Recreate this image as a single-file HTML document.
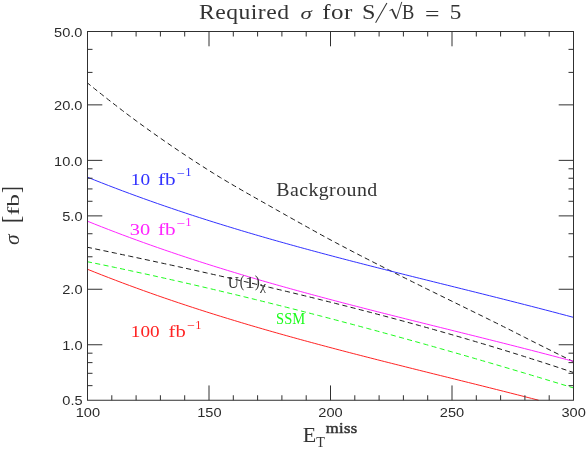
<!DOCTYPE html>
<html><head><meta charset="utf-8"><title>Required sigma</title>
<style>
html,body{margin:0;padding:0;background:#fff;}
body{width:588px;height:450px;overflow:hidden;position:relative;font-family:"Liberation Sans",sans-serif;}
</style></head><body>
<svg width="588" height="450" viewBox="0 0 588 450" style="position:absolute;left:0;top:0;will-change:transform">
<rect width="588" height="450" fill="#fff"/>
<g fill="none" stroke-width="1.0" stroke-linecap="butt" stroke-linejoin="round">
<path d="M87.50 82.99 L91.00 85.84 L94.49 88.66 L97.99 91.46 L101.49 94.25 L104.98 97.01 L108.48 99.76 L111.97 102.49 L115.47 105.20 L118.97 107.90 L122.46 110.57 L125.96 113.23 L129.46 115.86 L132.95 118.46 L136.45 121.04 L139.95 123.61 L143.44 126.15 L146.94 128.67 L150.44 131.17 L153.93 133.65 L157.43 136.11 L160.92 138.56 L164.42 140.99 L167.92 143.40 L171.41 145.80 L174.91 148.19 L178.41 150.55 L181.90 152.90 L185.40 155.23 L188.90 157.54 L192.39 159.83 L195.89 162.11 L199.38 164.37 L202.88 166.62 L206.38 168.85 L209.87 171.06 L213.37 173.25 L216.87 175.43 L220.36 177.56 L223.86 179.67 L227.36 181.74 L230.85 183.79 L234.35 185.83 L237.85 187.86 L241.34 189.89 L244.84 191.91 L248.33 193.90 L251.83 195.89 L255.33 197.86 L258.82 199.84 L262.32 201.80 L265.82 203.78 L269.31 205.75 L272.81 207.74 L276.31 209.72 L279.80 211.70 L283.30 213.68 L286.79 215.66 L290.29 217.63 L293.79 219.59 L297.28 221.55 L300.78 223.49 L304.28 225.44 L307.77 227.39 L311.27 229.33 L314.77 231.28 L318.26 233.21 L321.76 235.13 L325.26 237.04 L328.75 238.93 L332.25 240.80 L335.74 242.66 L339.24 244.52 L342.74 246.37 L346.23 248.20 L349.73 250.04 L353.23 251.86 L356.72 253.67 L360.22 255.47 L363.72 257.27 L367.21 259.06 L370.71 260.84 L374.21 262.61 L377.70 264.38 L381.20 266.15 L384.69 267.91 L388.19 269.67 L391.69 271.42 L395.18 273.17 L398.68 274.92 L402.18 276.67 L405.67 278.42 L409.17 280.16 L412.67 281.90 L416.16 283.63 L419.66 285.36 L423.15 287.09 L426.65 288.82 L430.15 290.54 L433.64 292.26 L437.14 293.98 L440.64 295.69 L444.13 297.41 L447.63 299.12 L451.13 300.84 L454.62 302.56 L458.12 304.27 L461.62 305.99 L465.11 307.71 L468.61 309.42 L472.10 311.14 L475.60 312.85 L479.10 314.55 L482.59 316.27 L486.09 318.00 L489.59 319.73 L493.08 321.47 L496.58 323.20 L500.08 324.94 L503.57 326.67 L507.07 328.41 L510.56 330.16 L514.06 331.93 L517.56 333.72 L521.05 335.51 L524.55 337.29 L528.05 339.06 L531.54 340.83 L535.04 342.59 L538.54 344.34 L542.03 346.08 L545.53 347.83 L549.03 349.57 L552.52 351.31 L556.02 353.05 L559.51 354.79 L563.01 356.52 L566.51 358.26 L570.00 359.98 L573.50 361.70" stroke="#1a1a1a" stroke-dasharray="5.1 3.35" stroke-dashoffset="1.1"/>
<path d="M87.50 177.22 L91.00 178.62 L94.49 180.02 L97.99 181.41 L101.49 182.78 L104.98 184.15 L108.48 185.51 L111.97 186.85 L115.47 188.19 L118.97 189.52 L122.46 190.84 L125.96 192.14 L129.46 193.44 L132.95 194.73 L136.45 196.01 L139.95 197.28 L143.44 198.54 L146.94 199.79 L150.44 201.04 L153.93 202.27 L157.43 203.50 L160.92 204.71 L164.42 205.92 L167.92 207.12 L171.41 208.31 L174.91 209.50 L178.41 210.68 L181.90 211.84 L185.40 213.00 L188.90 214.16 L192.39 215.30 L195.89 216.44 L199.38 217.57 L202.88 218.69 L206.38 219.81 L209.87 220.91 L213.37 222.02 L216.87 223.11 L220.36 224.20 L223.86 225.28 L227.36 226.35 L230.85 227.42 L234.35 228.48 L237.85 229.54 L241.34 230.59 L244.84 231.63 L248.33 232.67 L251.83 233.70 L255.33 234.72 L258.82 235.74 L262.32 236.76 L265.82 237.77 L269.31 238.77 L272.81 239.77 L276.31 240.76 L279.80 241.75 L283.30 242.73 L286.79 243.71 L290.29 244.68 L293.79 245.65 L297.28 246.62 L300.78 247.58 L304.28 248.53 L307.77 249.48 L311.27 250.43 L314.77 251.37 L318.26 252.31 L321.76 253.25 L325.26 254.18 L328.75 255.11 L332.25 256.04 L335.74 256.96 L339.24 257.88 L342.74 258.79 L346.23 259.70 L349.73 260.61 L353.23 261.52 L356.72 262.42 L360.22 263.32 L363.72 264.22 L367.21 265.12 L370.71 266.01 L374.21 266.90 L377.70 267.79 L381.20 268.68 L384.69 269.56 L388.19 270.44 L391.69 271.33 L395.18 272.21 L398.68 273.09 L402.18 273.96 L405.67 274.84 L409.17 275.71 L412.67 276.59 L416.16 277.46 L419.66 278.33 L423.15 279.20 L426.65 280.07 L430.15 280.94 L433.64 281.81 L437.14 282.68 L440.64 283.55 L444.13 284.41 L447.63 285.28 L451.13 286.15 L454.62 287.02 L458.12 287.89 L461.62 288.76 L465.11 289.63 L468.61 290.50 L472.10 291.37 L475.60 292.24 L479.10 293.11 L482.59 293.98 L486.09 294.86 L489.59 295.73 L493.08 296.61 L496.58 297.49 L500.08 298.37 L503.57 299.25 L507.07 300.13 L510.56 301.02 L514.06 301.91 L517.56 302.79 L521.05 303.69 L524.55 304.58 L528.05 305.47 L531.54 306.37 L535.04 307.27 L538.54 308.18 L542.03 309.08 L545.53 309.99 L549.03 310.90 L552.52 311.82 L556.02 312.73 L559.51 313.66 L563.01 314.58 L566.51 315.51 L570.00 316.44 L573.50 317.37" stroke="#3232ff"/>
<path d="M87.50 221.22 L91.00 222.62 L94.49 224.02 L97.99 225.41 L101.49 226.78 L104.98 228.15 L108.48 229.51 L111.97 230.85 L115.47 232.19 L118.97 233.52 L122.46 234.84 L125.96 236.14 L129.46 237.44 L132.95 238.73 L136.45 240.01 L139.95 241.28 L143.44 242.54 L146.94 243.79 L150.44 245.04 L153.93 246.27 L157.43 247.50 L160.92 248.71 L164.42 249.92 L167.92 251.12 L171.41 252.31 L174.91 253.50 L178.41 254.68 L181.90 255.84 L185.40 257.00 L188.90 258.16 L192.39 259.30 L195.89 260.44 L199.38 261.57 L202.88 262.69 L206.38 263.81 L209.87 264.91 L213.37 266.02 L216.87 267.11 L220.36 268.20 L223.86 269.28 L227.36 270.35 L230.85 271.42 L234.35 272.48 L237.85 273.54 L241.34 274.59 L244.84 275.63 L248.33 276.67 L251.83 277.70 L255.33 278.72 L258.82 279.74 L262.32 280.76 L265.82 281.77 L269.31 282.77 L272.81 283.77 L276.31 284.76 L279.80 285.75 L283.30 286.73 L286.79 287.71 L290.29 288.68 L293.79 289.65 L297.28 290.62 L300.78 291.58 L304.28 292.53 L307.77 293.48 L311.27 294.43 L314.77 295.37 L318.26 296.31 L321.76 297.25 L325.26 298.18 L328.75 299.11 L332.25 300.04 L335.74 300.96 L339.24 301.88 L342.74 302.79 L346.23 303.70 L349.73 304.61 L353.23 305.52 L356.72 306.42 L360.22 307.32 L363.72 308.22 L367.21 309.12 L370.71 310.01 L374.21 310.90 L377.70 311.79 L381.20 312.68 L384.69 313.56 L388.19 314.44 L391.69 315.33 L395.18 316.21 L398.68 317.09 L402.18 317.96 L405.67 318.84 L409.17 319.71 L412.67 320.59 L416.16 321.46 L419.66 322.33 L423.15 323.20 L426.65 324.07 L430.15 324.94 L433.64 325.81 L437.14 326.68 L440.64 327.55 L444.13 328.41 L447.63 329.28 L451.13 330.15 L454.62 331.02 L458.12 331.89 L461.62 332.76 L465.11 333.63 L468.61 334.50 L472.10 335.37 L475.60 336.24 L479.10 337.11 L482.59 337.98 L486.09 338.86 L489.59 339.73 L493.08 340.61 L496.58 341.49 L500.08 342.37 L503.57 343.25 L507.07 344.13 L510.56 345.02 L514.06 345.91 L517.56 346.79 L521.05 347.69 L524.55 348.58 L528.05 349.47 L531.54 350.37 L535.04 351.27 L538.54 352.18 L542.03 353.08 L545.53 353.99 L549.03 354.90 L552.52 355.82 L556.02 356.73 L559.51 357.66 L563.01 358.58 L566.51 359.51 L570.00 360.44 L573.50 361.37" stroke="#ff26ff"/>
<path d="M87.50 247.29 L91.00 248.02 L94.49 248.75 L97.99 249.49 L101.49 250.22 L104.98 250.95 L108.48 251.69 L111.97 252.43 L115.47 253.17 L118.97 253.91 L122.46 254.65 L125.96 255.39 L129.46 256.13 L132.95 256.88 L136.45 257.62 L139.95 258.37 L143.44 259.12 L146.94 259.87 L150.44 260.62 L153.93 261.38 L157.43 262.13 L160.92 262.89 L164.42 263.65 L167.92 264.41 L171.41 265.17 L174.91 265.93 L178.41 266.70 L181.90 267.47 L185.40 268.23 L188.90 269.00 L192.39 269.78 L195.89 270.55 L199.38 271.33 L202.88 272.11 L206.38 272.89 L209.87 273.67 L213.37 274.46 L216.87 275.24 L220.36 276.03 L223.86 276.82 L227.36 277.62 L230.85 278.41 L234.35 279.21 L237.85 280.01 L241.34 280.81 L244.84 281.62 L248.33 282.43 L251.83 283.24 L255.33 284.05 L258.82 284.86 L262.32 285.68 L265.82 286.50 L269.31 287.32 L272.81 288.15 L276.31 288.98 L279.80 289.81 L283.30 290.64 L286.79 291.48 L290.29 292.32 L293.79 293.16 L297.28 294.00 L300.78 294.85 L304.28 295.70 L307.77 296.55 L311.27 297.41 L314.77 298.27 L318.26 299.13 L321.76 300.00 L325.26 300.87 L328.75 301.74 L332.25 302.61 L335.74 303.49 L339.24 304.37 L342.74 305.26 L346.23 306.15 L349.73 307.04 L353.23 307.93 L356.72 308.83 L360.22 309.73 L363.72 310.64 L367.21 311.55 L370.71 312.46 L374.21 313.38 L377.70 314.30 L381.20 315.22 L384.69 316.14 L388.19 317.08 L391.69 318.01 L395.18 318.95 L398.68 319.89 L402.18 320.83 L405.67 321.78 L409.17 322.74 L412.67 323.69 L416.16 324.66 L419.66 325.62 L423.15 326.59 L426.65 327.56 L430.15 328.54 L433.64 329.52 L437.14 330.51 L440.64 331.50 L444.13 332.49 L447.63 333.49 L451.13 334.49 L454.62 335.50 L458.12 336.51 L461.62 337.52 L465.11 338.54 L468.61 339.57 L472.10 340.60 L475.60 341.63 L479.10 342.67 L482.59 343.71 L486.09 344.76 L489.59 345.81 L493.08 346.87 L496.58 347.93 L500.08 348.99 L503.57 350.06 L507.07 351.14 L510.56 352.22 L514.06 353.30 L517.56 354.39 L521.05 355.49 L524.55 356.59 L528.05 357.69 L531.54 358.80 L535.04 359.92 L538.54 361.04 L542.03 362.16 L545.53 363.29 L549.03 364.43 L552.52 365.57 L556.02 366.71 L559.51 367.86 L563.01 369.02 L566.51 370.18 L570.00 371.35 L573.50 372.52" stroke="#1a1a1a" stroke-dasharray="5.1 3.35" stroke-dashoffset="0.6"/>
<path d="M87.50 261.74 L91.00 262.46 L94.49 263.17 L97.99 263.89 L101.49 264.62 L104.98 265.34 L108.48 266.07 L111.97 266.81 L115.47 267.54 L118.97 268.28 L122.46 269.03 L125.96 269.77 L129.46 270.52 L132.95 271.27 L136.45 272.03 L139.95 272.79 L143.44 273.55 L146.94 274.31 L150.44 275.08 L153.93 275.85 L157.43 276.63 L160.92 277.41 L164.42 278.19 L167.92 278.97 L171.41 279.76 L174.91 280.55 L178.41 281.34 L181.90 282.13 L185.40 282.93 L188.90 283.73 L192.39 284.54 L195.89 285.35 L199.38 286.16 L202.88 286.97 L206.38 287.79 L209.87 288.61 L213.37 289.43 L216.87 290.25 L220.36 291.08 L223.86 291.91 L227.36 292.75 L230.85 293.58 L234.35 294.42 L237.85 295.27 L241.34 296.11 L244.84 296.96 L248.33 297.81 L251.83 298.67 L255.33 299.52 L258.82 300.38 L262.32 301.25 L265.82 302.11 L269.31 302.98 L272.81 303.85 L276.31 304.72 L279.80 305.60 L283.30 306.48 L286.79 307.36 L290.29 308.24 L293.79 309.13 L297.28 310.02 L300.78 310.91 L304.28 311.81 L307.77 312.70 L311.27 313.61 L314.77 314.51 L318.26 315.41 L321.76 316.32 L325.26 317.23 L328.75 318.15 L332.25 319.06 L335.74 319.98 L339.24 320.90 L342.74 321.83 L346.23 322.75 L349.73 323.68 L353.23 324.61 L356.72 325.55 L360.22 326.48 L363.72 327.42 L367.21 328.36 L370.71 329.31 L374.21 330.25 L377.70 331.20 L381.20 332.15 L384.69 333.10 L388.19 334.06 L391.69 335.02 L395.18 335.98 L398.68 336.94 L402.18 337.91 L405.67 338.88 L409.17 339.85 L412.67 340.82 L416.16 341.79 L419.66 342.77 L423.15 343.75 L426.65 344.73 L430.15 345.72 L433.64 346.70 L437.14 347.69 L440.64 348.68 L444.13 349.68 L447.63 350.67 L451.13 351.67 L454.62 352.67 L458.12 353.67 L461.62 354.68 L465.11 355.68 L468.61 356.69 L472.10 357.70 L475.60 358.72 L479.10 359.73 L482.59 360.75 L486.09 361.77 L489.59 362.79 L493.08 363.81 L496.58 364.84 L500.08 365.87 L503.57 366.90 L507.07 367.93 L510.56 368.96 L514.06 370.00 L517.56 371.04 L521.05 372.08 L524.55 373.12 L528.05 374.16 L531.54 375.21 L535.04 376.26 L538.54 377.31 L542.03 378.36 L545.53 379.42 L549.03 380.47 L552.52 381.53 L556.02 382.59 L559.51 383.65 L563.01 384.72 L566.51 385.78 L570.00 386.85 L573.50 387.92" stroke="#1cfc1c" stroke-dasharray="5.1 3.35" stroke-dashoffset="0.6"/>
<path d="M87.50 269.27 L91.00 270.67 L94.49 272.07 L97.99 273.46 L101.49 274.83 L104.98 276.20 L108.48 277.56 L111.97 278.90 L115.47 280.24 L118.97 281.57 L122.46 282.89 L125.96 284.19 L129.46 285.49 L132.95 286.78 L136.45 288.06 L139.95 289.33 L143.44 290.59 L146.94 291.84 L150.44 293.09 L153.93 294.32 L157.43 295.55 L160.92 296.76 L164.42 297.97 L167.92 299.17 L171.41 300.36 L174.91 301.55 L178.41 302.73 L181.90 303.89 L185.40 305.05 L188.90 306.21 L192.39 307.35 L195.89 308.49 L199.38 309.62 L202.88 310.74 L206.38 311.86 L209.87 312.96 L213.37 314.07 L216.87 315.16 L220.36 316.25 L223.86 317.33 L227.36 318.40 L230.85 319.47 L234.35 320.53 L237.85 321.59 L241.34 322.64 L244.84 323.68 L248.33 324.72 L251.83 325.75 L255.33 326.77 L258.82 327.79 L262.32 328.81 L265.82 329.82 L269.31 330.82 L272.81 331.82 L276.31 332.81 L279.80 333.80 L283.30 334.78 L286.79 335.76 L290.29 336.73 L293.79 337.70 L297.28 338.67 L300.78 339.63 L304.28 340.58 L307.77 341.53 L311.27 342.48 L314.77 343.42 L318.26 344.36 L321.76 345.30 L325.26 346.23 L328.75 347.16 L332.25 348.09 L335.74 349.01 L339.24 349.93 L342.74 350.84 L346.23 351.75 L349.73 352.66 L353.23 353.57 L356.72 354.47 L360.22 355.37 L363.72 356.27 L367.21 357.17 L370.71 358.06 L374.21 358.95 L377.70 359.84 L381.20 360.73 L384.69 361.61 L388.19 362.49 L391.69 363.38 L395.18 364.26 L398.68 365.14 L402.18 366.01 L405.67 366.89 L409.17 367.76 L412.67 368.64 L416.16 369.51 L419.66 370.38 L423.15 371.25 L426.65 372.12 L430.15 372.99 L433.64 373.86 L437.14 374.73 L440.64 375.60 L444.13 376.46 L447.63 377.33 L451.13 378.20 L454.62 379.07 L458.12 379.94 L461.62 380.81 L465.11 381.68 L468.61 382.55 L472.10 383.42 L475.60 384.29 L479.10 385.16 L482.59 386.03 L486.09 386.91 L489.59 387.78 L493.08 388.66 L496.58 389.54 L500.08 390.42 L503.57 391.30 L507.07 392.18 L510.56 393.07 L514.06 393.96 L517.56 394.84 L521.05 395.74 L524.55 396.63 L528.05 397.52 L531.54 398.42 L535.04 399.32 L538.54 400.23 L538.63 400.25" stroke="#ff2424"/>
</g>
<g stroke="#303030" stroke-width="1" fill="none">
<rect x="87.50" y="31.50" width="486.00" height="368.75"/>
<path d="M111.80 400.25v-5.00M111.80 31.50v5.00M136.10 400.25v-5.00M136.10 31.50v5.00M160.40 400.25v-5.00M160.40 31.50v5.00M184.70 400.25v-5.00M184.70 31.50v5.00M209.00 400.25v-14.80M209.00 31.50v14.80M233.30 400.25v-5.00M233.30 31.50v5.00M257.60 400.25v-5.00M257.60 31.50v5.00M281.90 400.25v-5.00M281.90 31.50v5.00M306.20 400.25v-5.00M306.20 31.50v5.00M330.50 400.25v-14.80M330.50 31.50v14.80M354.80 400.25v-5.00M354.80 31.50v5.00M379.10 400.25v-5.00M379.10 31.50v5.00M403.40 400.25v-5.00M403.40 31.50v5.00M427.70 400.25v-5.00M427.70 31.50v5.00M452.00 400.25v-14.80M452.00 31.50v14.80M476.30 400.25v-5.00M476.30 31.50v5.00M500.60 400.25v-5.00M500.60 31.50v5.00M524.90 400.25v-5.00M524.90 31.50v5.00M549.20 400.25v-5.00M549.20 31.50v5.00M87.50 104.87h14.80M573.50 104.87h-14.80M87.50 160.37h14.80M573.50 160.37h-14.80M87.50 215.88h14.80M573.50 215.88h-14.80M87.50 289.25h14.80M573.50 289.25h-14.80M87.50 344.75h14.80M573.50 344.75h-14.80M87.50 49.37h5.00M573.50 49.37h-5.00M87.50 72.40h5.00M573.50 72.40h-5.00M87.50 168.81h5.00M573.50 168.81h-5.00M87.50 178.24h5.00M573.50 178.24h-5.00M87.50 188.93h5.00M573.50 188.93h-5.00M87.50 201.28h5.00M573.50 201.28h-5.00M87.50 233.74h5.00M573.50 233.74h-5.00M87.50 256.78h5.00M573.50 256.78h-5.00M87.50 353.18h5.00M573.50 353.18h-5.00M87.50 362.62h5.00M573.50 362.62h-5.00M87.50 373.31h5.00M573.50 373.31h-5.00M87.50 385.65h5.00M573.50 385.65h-5.00"/>
</g>
<g font-family="'Liberation Serif', serif" fill="#333">
<path d="M375.6 22.8 L386.9 3.0" stroke="#333" stroke-width="1.05" fill="none"/>
<path d="M389.5 10.6 L392.3 9.3 M396.4 18.6 L401.8 1.9" stroke="#333" stroke-width="0.95" fill="none"/>
<path d="M392.0 9.2 L396.3 18.7" stroke="#333" stroke-width="1.7" fill="none"/>
<text transform="translate(75.72 416.85) scale(1.1600 1)" font-size="12.60" font-family="'Liberation Sans', sans-serif" fill="#2b2b2b">100</text>
<text transform="translate(197.22 416.85) scale(1.1600 1)" font-size="12.60" font-family="'Liberation Sans', sans-serif" fill="#2b2b2b">150</text>
<text transform="translate(318.31 416.85) scale(1.1600 1)" font-size="12.60" font-family="'Liberation Sans', sans-serif" fill="#2b2b2b">200</text>
<text transform="translate(439.81 416.85) scale(1.1600 1)" font-size="12.60" font-family="'Liberation Sans', sans-serif" fill="#2b2b2b">250</text>
<text transform="translate(561.42 416.85) scale(1.1600 1)" font-size="12.60" font-family="'Liberation Sans', sans-serif" fill="#2b2b2b">300</text>
<text transform="translate(54.08 36.65) scale(1.1600 1)" font-size="12.60" font-family="'Liberation Sans', sans-serif" fill="#2b2b2b">50.0</text>
<text transform="translate(54.08 110.02) scale(1.1600 1)" font-size="12.60" font-family="'Liberation Sans', sans-serif" fill="#2b2b2b">20.0</text>
<text transform="translate(54.08 165.52) scale(1.1600 1)" font-size="12.60" font-family="'Liberation Sans', sans-serif" fill="#2b2b2b">10.0</text>
<text transform="translate(62.21 221.03) scale(1.1600 1)" font-size="12.60" font-family="'Liberation Sans', sans-serif" fill="#2b2b2b">5.0</text>
<text transform="translate(62.21 294.40) scale(1.1600 1)" font-size="12.60" font-family="'Liberation Sans', sans-serif" fill="#2b2b2b">2.0</text>
<text transform="translate(62.21 349.90) scale(1.1600 1)" font-size="12.60" font-family="'Liberation Sans', sans-serif" fill="#2b2b2b">1.0</text>
<text transform="translate(62.28 405.40) scale(1.1600 1)" font-size="12.60" font-family="'Liberation Sans', sans-serif" fill="#2b2b2b">0.5</text>
<text transform="translate(199.01 18.90) scale(1.1829 1)" font-size="20.00" letter-spacing="0.40">Required</text>
<text transform="translate(300.43 19.00) scale(1.3529 1)" font-size="17.00" font-style="italic">σ</text>
<text transform="translate(322.35 18.90) scale(1.2522 1)" font-size="20.00" letter-spacing="0.30">for</text>
<text transform="translate(362.03 18.90) scale(1.2093 1)" font-size="20.00">S</text>
<text transform="translate(401.94 18.90) scale(0.9244 1)" font-size="20.00">B</text>
<text transform="translate(425.04 20.60) scale(1.2842 1)" font-size="20.00">=</text>
<text transform="translate(449.73 19.10) scale(1.1585 1)" font-size="20.00">5</text>
<text transform="translate(130.86 184.55) scale(1.1925 1)" font-size="16.20" fill="#3232ff">10</text>
<text transform="translate(158.06 184.55) scale(1.2485 1)" font-size="17.00" fill="#3232ff">fb</text>
<text transform="translate(176.56 177.95) scale(1.1012 1)" font-size="13.00" fill="#3232ff">−</text>
<text transform="translate(185.22 176.35) scale(1.0223 1)" font-size="12.40" fill="#3232ff">1</text>
<text transform="translate(129.78 234.60) scale(1.2614 1)" font-size="16.20" fill="#ff26ff">30</text>
<text transform="translate(158.06 234.60) scale(1.2485 1)" font-size="17.00" fill="#ff26ff">fb</text>
<text transform="translate(176.21 228.00) scale(1.1822 1)" font-size="13.00" fill="#ff26ff">−</text>
<text transform="translate(185.22 226.40) scale(1.0223 1)" font-size="12.40" fill="#ff26ff">1</text>
<text transform="translate(130.87 336.80) scale(1.1854 1)" font-size="16.20" fill="#ff2424">100</text>
<text transform="translate(168.58 336.80) scale(1.2102 1)" font-size="17.00" fill="#ff2424">fb</text>
<text transform="translate(186.67 330.20) scale(1.0688 1)" font-size="13.00" fill="#ff2424">−</text>
<text transform="translate(195.15 328.60) scale(0.9995 1)" font-size="12.40" fill="#ff2424">1</text>
<text transform="translate(276.20 195.70) scale(1.1039 1)" font-size="18.00" letter-spacing="0.40">Background</text>
<text transform="translate(227.79 287.80) scale(0.9672 1)" font-size="16.00">U</text>
<text transform="translate(239.76 286.90) scale(0.7991 1)" font-size="17.00">(</text>
<text transform="translate(244.97 287.80) scale(1.1609 1)" font-size="16.50">1</text>
<text transform="translate(254.65 286.90) scale(0.8824 1)" font-size="17.00">)</text>
<text transform="translate(260.07 290.30) scale(1.1724 1)" font-size="11.50">χ</text>
<text transform="translate(276.06 323.80) scale(0.8802 1)" font-size="16.50" fill="#1cfc1c">SSM</text>
<text transform="translate(302.75 441.50) scale(1.1019 1)" font-size="20.00">E</text>
<text transform="translate(316.29 446.70) scale(1.0099 1)" font-size="14.00">T</text>
<text transform="translate(325.67 432.60) scale(1.1891 1)" font-size="14.00" stroke="#333" stroke-width="0.45" letter-spacing="0.30">miss</text>
<g transform="translate(19.4 245) rotate(-90)">
<text transform="translate(-0.04 0.00) scale(1.0286 1)" font-size="21.00" font-style="italic">σ</text>
<text transform="translate(21.72 0.00) scale(0.8972 1)" font-size="25.20">[</text>
<text transform="translate(29.73 0.00) scale(1.4574 1)" font-size="17.60">fb</text>
<text transform="translate(51.88 0.00) scale(0.8113 1)" font-size="25.20">]</text>
</g>
</g>
</svg>
</body></html>
